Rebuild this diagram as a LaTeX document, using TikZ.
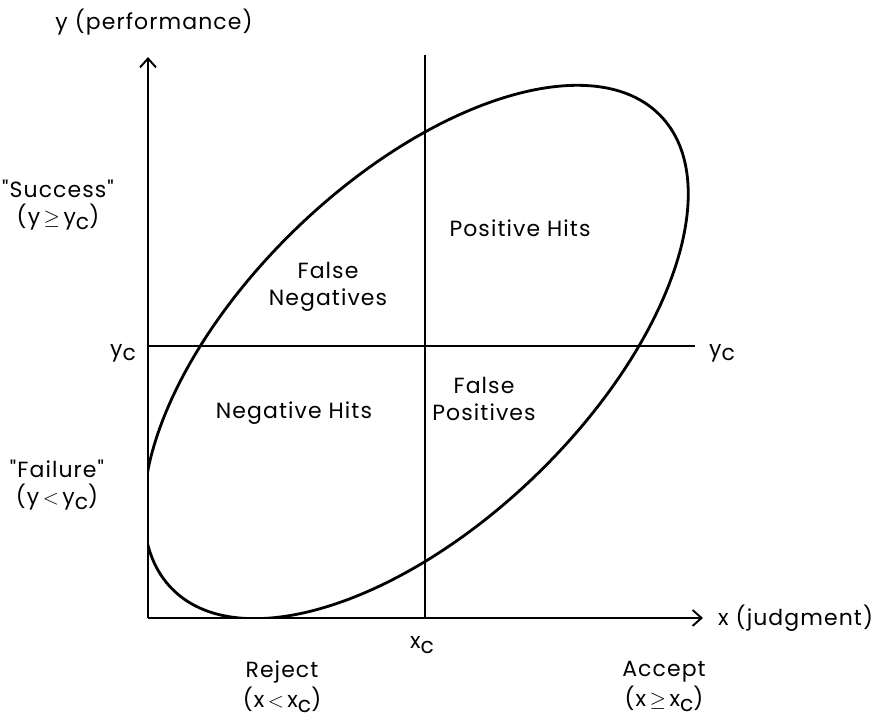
\documentclass[tikz,border=0pt]{standalone}
\usepackage{fontspec}
\setmainfont{Poppins}[Ligatures=TeXOff, LetterSpace=5]
\usepackage{tikz}
\usetikzlibrary{arrows.meta, positioning}

\newcommand{\lwr}[1]{\raisebox{-0.4ex}{#1}}

\begin{document}
\begin{tikzpicture}[
    x=0.02cm, y=0.02cm,
    node distance=0.03cm,
    axis/.style={line width=1.1pt, -{Straight Barb[length=1.8mm, width=3.2mm]}},
    cut/.style={line width=1.1pt},
    curve/.style={line width=1.6pt},
    lbl/.style={font=\fontsize{12.5}{15}\selectfont, inner sep=0.5pt, align=center},
]
\useasboundingbox (-148,-101) rectangle (725,618);

% Axes and cut-offs
\coordinate (origin) at (0,0);
\coordinate (ytip) at (0,561);
\coordinate (xtip) at (555,0);
\coordinate (xcbot) at (277,0);
\coordinate (xctop) at (277,563);
\coordinate (ycleft) at (0,272);
\coordinate (ycright) at (547,272);

\draw[axis] (origin) -- (ytip);
\draw[axis] (origin) -- (xtip);
\draw[cut] (xcbot) -- (xctop);
\draw[cut] (ycleft) -- (ycright);

% Scatter ellipse, clipped by the axes
\coordinate (centre) at (268,266);
\begin{scope}
  \clip (origin) rectangle (xtip |- ytip);
  \draw[curve, shift={(centre)}, rotate=44] (0,0) ellipse [x radius=340, y radius=172];
\end{scope}

% Axis labels
\node[lbl] (ylabel) at (6,596) {y (performance)};
\node[lbl, anchor=west] (xlabel) at (569,0) {x (judgment)};
\node[lbl] (ycl) at (-25,265) {y\lwr{c}};
\node[lbl] (ycr) at (574,265) {y\lwr{c}};
\node[lbl] (xcl) at (274,-27) {x\lwr{c}};

% Outcomes on the y side
\node[lbl] (success) at (-90,429) {"Success"};
\node[lbl, below=0.08cm of success] (successcond) {(y$\,\geq\,$y\lwr{c})};
\node[lbl] (failure) at (-91,149) {"Failure"};
\node[lbl, below=0.08cm of failure] (failurecond) {(y$\,<\,$y\lwr{c})};

% Decisions on the x side
\node[lbl] (reject) at (134,-54) {Reject};
\node[lbl, below=of reject] (rejectcond) {(x$\,<\,$x\lwr{c})};
\node[lbl] (accept) at (516,-54) {Accept};
\node[lbl, below=of accept] (acceptcond) {(x$\,\geq\,$x\lwr{c})};

% Quadrants
\node[lbl] (falseneg) at (180,331) {False\\Negatives};
\node[lbl] (poshits) at (372,390) {Positive Hits};
\node[lbl] (neghits) at (146,205) {Negative Hits};
\node[lbl] (falsepos) at (336,219) {False\\Positives};

\end{tikzpicture}
\end{document}
